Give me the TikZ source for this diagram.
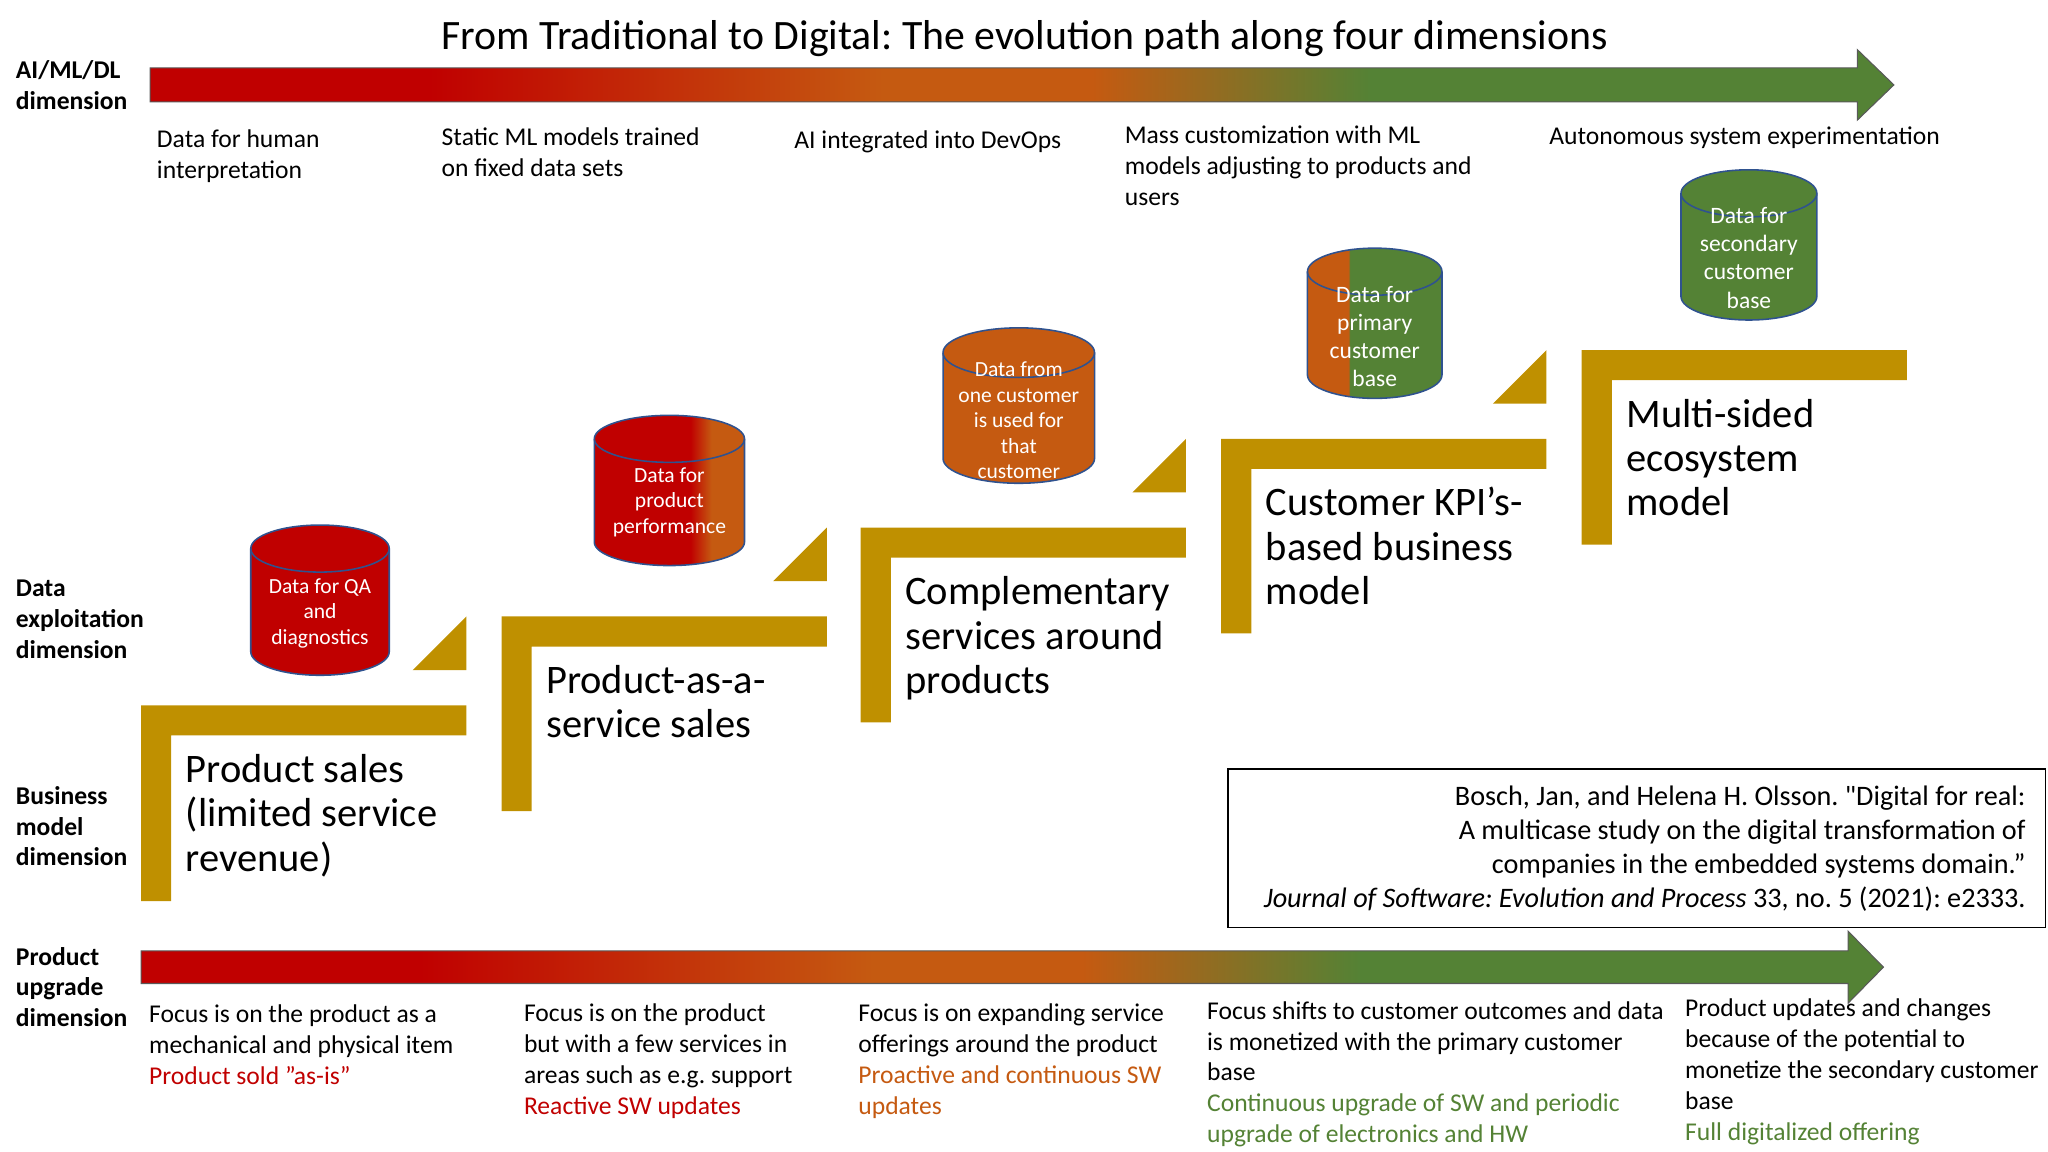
\documentclass[tikz,border=0pt]{standalone}
\usepackage{fontspec}
\setmainfont{Carlito}
\newfontfamily\citefont{Carlito}
\usetikzlibrary{positioning}
\frenchspacing
\definecolor{cred}{HTML}{C00000}
\definecolor{corange}{HTML}{C55A11}
\definecolor{cgreen}{HTML}{548235}
\definecolor{cgold}{HTML}{BF9000}
\definecolor{cedge}{HTML}{2F528F}
\pgfdeclarehorizontalshading{evolution}{100bp}{color(0bp)=(cred); color(33bp)=(cred); color(46bp)=(corange); color(52bp)=(corange); color(60bp)=(cgreen); color(100bp)=(cgreen)}
\pgfdeclarehorizontalshading{redorange}{100bp}{color(0bp)=(cred); color(57bp)=(cred); color(64bp)=(corange); color(100bp)=(corange)}
\pgfdeclarehorizontalshading{orangegreen}{100bp}{color(0bp)=(corange); color(40.3bp)=(corange); color(40.7bp)=(cgreen); color(100bp)=(cgreen)}
% data cylinder: fill options, centre x, top, bottom, x radius, y radius
\newcommand\datacyl[6]{%
  \path[cylline,#1] (#2-#5,#3+#6) -- (#2-#5,#4-#6) arc[start angle=180,end angle=360,x radius=#5pt,y radius=#6pt]
    -- (#2+#5,#3+#6) arc[start angle=0,end angle=180,x radius=#5pt,y radius=#6pt] -- cycle;
  \draw[cylline] (#2-#5,#3+#6) arc[start angle=180,end angle=360,x radius=#5pt,y radius=#6pt];}

\begin{document}
\begin{tikzpicture}[x=1pt,y=-1pt,every node/.style={inner sep=0pt}]
\tikzstyle{dimlabel}=[anchor=base west,align=left,font=\bfseries\fontsize{19.6}{23.5}\selectfont]
  \tikzstyle{infotext}=[anchor=base west,align=left,font=\fontsize{19.6}{23.7}\selectfont]
  \tikzstyle{steptext}=[anchor=base west,align=left,font=\fontsize{31}{34}\selectfont]
  \tikzstyle{bigarrow}=[draw=gray!70!black,line width=0.8pt,shading=evolution]
  \tikzstyle{stepbar}=[fill=cgold]
  \tikzstyle{cylline}=[draw=cedge,line width=1.2pt]
  \tikzstyle{cyltext}=[align=center,text=white,font=\fontsize{16.5}{19.5}\selectfont]
\useasboundingbox (0,0) rectangle (1568,882);
%
% title and dimension labels
\node[anchor=base,font=\fontsize{32}{36}\selectfont] (title) at (784.5,38) {From Traditional to Digital: The evolution path along four dimensions};
  \node[dimlabel] (dimai) at (12,83.5) {AI/ML/DL\\dimension};
  \node[dimlabel] (dimdata) at (12,504) {Data\\exploitation\\dimension};
  \node[dimlabel] (dimbm) at (12,663) {Business\\model\\dimension};
  \node[dimlabel] (dimup) at (12,786) {Product\\upgrade\\dimension};
%
% the two evolution arrows
\path[bigarrow] (115,52) -- (1422,52) -- (1422,38) -- (1450,65) -- (1422,92) -- (1422,78) -- (115,78) -- cycle;
  \path[bigarrow] (108,728) -- (1415,728) -- (1415,713) -- (1442,740.5) -- (1415,768) -- (1415,753) -- (108,753) -- cycle;
%
\node[infotext] (ai1) at (120,137) {Data for human\\interpretation};
  \node[infotext] (ai2) at (338,135) {Static ML models trained\\on fixed data sets};
  \node[infotext] (ai3) at (608,114) {AI integrated into DevOps};
  \node[infotext] (ai4) at (861,157) {Mass customization with ML\\models adjusting to products and\\users};
  \node[infotext] (ai5) at (1186,111) {Autonomous system experimentation};
%
% business model steps
\path[stepbar] (108,540) -- (357,540) -- (357,563) -- (131,563) -- (131,690) -- (108,690) -- cycle;
  \path[stepbar] (357,472) -- (357,513) -- (316,513) -- cycle;
  \path[stepbar] (384,472) -- (633,472) -- (633,495) -- (407,495) -- (407,621) -- (384,621) -- cycle;
  \path[stepbar] (633,404) -- (633,445) -- (592,445) -- cycle;
  \path[stepbar] (659,404) -- (908,404) -- (908,427) -- (682,427) -- (682,553) -- (659,553) -- cycle;
  \path[stepbar] (908,336) -- (908,377) -- (867,377) -- cycle;
  \path[stepbar] (935,336) -- (1184,336) -- (1184,359) -- (958,359) -- (958,485) -- (935,485) -- cycle;
  \path[stepbar] (1184,268) -- (1184,309) -- (1143,309) -- cycle;
  \path[stepbar] (1211,268) -- (1460,268) -- (1460,291) -- (1234,291) -- (1234,417) -- (1211,417) -- cycle;
%
\node[steptext] (bm1) at (142,667) {Product sales\\(limited service\\revenue)};
  \node[steptext] (bm2) at (418,565) {Product-as-a-\\service sales};
  \node[steptext] (bm3) at (693,531) {Complementary\\services around\\products};
  \node[steptext] (bm4) at (969,463) {Customer KPI’s-\\based business\\model};
  \node[steptext] (bm5) at (1245,395) {Multi-sided\\ecosystem\\model};
%
% data cylinders
\datacyl{fill=cred}{245}{402}{517}{53}{18}
  \node[cyltext] (cyl1) at (245,469.5) {Data for QA\\and\\diagnostics};
  \datacyl{shading=redorange}{512.5}{318}{433}{57.5}{18}
  \node[cyltext] (cyl2) at (512.5,384.5) {Data for\\product\\performance};
  \datacyl{fill=corange}{780}{251}{370}{58}{19}
  \node[cyltext] (cyl3) at (780,322) {Data from\\one customer\\is used for\\that\\customer};
  \datacyl{shading=orangegreen}{1052.5}{190}{305}{51.5}{18}
  \node[cyltext,font=\fontsize{18}{21.5}\selectfont] (cyl4) at (1052.5,257.5) {Data for\\primary\\customer\\base};
  \datacyl{fill=cgreen}{1339}{130}{245}{52}{18}
  \node[cyltext,font=\fontsize{18}{21.5}\selectfont] (cyl5) at (1339,197.5) {Data for\\secondary\\customer\\base};
%
% reference box
\node[draw,line width=1.3pt,minimum width=626pt,minimum height=121pt] (citebox) at (1253,649.5) {};
  \node[anchor=base east,align=right,font=\citefont\fontsize{21.6}{26}\selectfont] (cite) at (1551,695) {Bosch, Jan, and Helena H. Olsson. "Digital for real:\\A multicase study on the digital transformation of\\companies in the embedded systems domain.”\\\textit{Journal of Software: Evolution and Process} 33, no. 5 (2021): e2333.};
%
% product upgrade texts
\node[infotext] (up1) at (114,830) {Focus is on the product as a\\mechanical and physical item\\\textcolor{cred}{Product sold ”as-is”}};
  \node[infotext] (up2) at (401,853) {Focus is on the product\\but with a few services in\\areas such as e.g. support\\\textcolor{cred}{Reactive SW updates}};
  \node[infotext] (up3) at (657,853) {Focus is on expanding service\\offerings around the product\\\textcolor{corange}{Proactive and continuous SW}\\\textcolor{corange}{updates}};
  \node[infotext] (up4) at (924,875) {Focus shifts to customer outcomes and data\\is monetized with the primary customer\\base\\\textcolor{cgreen}{Continuous upgrade of SW and periodic}\\\textcolor{cgreen}{upgrade of electronics and HW}};
  \node[infotext] (up5) at (1290,873) {Product updates and changes\\because of the potential to\\monetize the secondary customer\\base\\\textcolor{cgreen}{Full digitalized offering}};
\end{tikzpicture}
\end{document}
